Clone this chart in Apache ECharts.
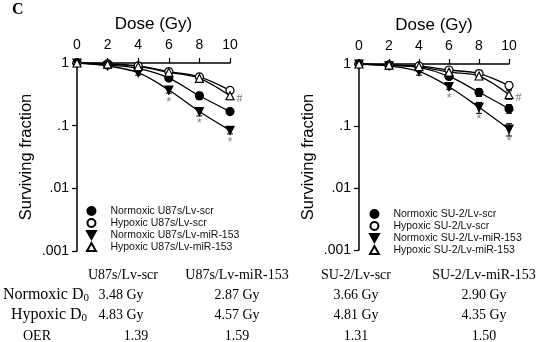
<!DOCTYPE html>
<html>
<head>
<meta charset="utf-8">
<script src="https://cdn.jsdelivr.net/npm/echarts@6/dist/echarts.min.js"></script>
<style>
html, body { margin: 0; padding: 0; background: #fff; }
#chart { width: 550px; height: 342px; }
</style>
</head>
<body>
<div id="chart"></div>
<script>
// doses (Gy)
const doses = [0, 2, 4, 6, 8, 10];

// U87s surviving fractions
const u87Names = ['Normoxic U87s/Lv-scr', 'Hypoxic U87s/Lv-scr', 'Normoxic U87s/Lv-miR-153', 'Hypoxic U87s/Lv-miR-153'];
const u87NormScr = [1, 0.93, 0.82, 0.575, 0.30, 0.168];
const u87HypScr  = [1, 0.97, 0.90, 0.73, 0.60, 0.365];
const u87NormMiR = [1, 0.90, 0.70, 0.37, 0.168, 0.084];
const u87HypMiR  = [1, 0.96, 0.88, 0.71, 0.57, 0.30];
const u87NormScrErr = [0, 0.07, 0.05, 0.05, 0.04, 0.015];
const u87HypScrErr  = [0, 0.06, 0.05, 0.05, 0.05, 0.04];
const u87NormMiRErr = [0, 0.08, 0.06, 0.04, 0.025, 0.01];
const u87HypMiRErr  = [0, 0.06, 0.05, 0.06, 0.06, 0.04];

// SU-2 surviving fractions
const su2Names = ['Normoxic SU-2/Lv-scr', 'Hypoxic SU-2/Lv-scr', 'Normoxic SU-2/Lv-miR-153', 'Hypoxic SU-2/Lv-miR-153'];
const su2NormScr = [1, 0.95, 0.88, 0.63, 0.35, 0.19];
const su2HypScr  = [1, 0.97, 0.93, 0.80, 0.70, 0.45];
const su2NormMiR = [1, 0.93, 0.76, 0.43, 0.20, 0.089];
const su2HypMiR  = [1, 0.96, 0.91, 0.74, 0.64, 0.32];
const su2NormScrErr = [0, 0.07, 0.05, 0.06, 0.05, 0.03];
const su2HypScrErr  = [0, 0.06, 0.05, 0.05, 0.05, 0.06];
const su2NormMiRErr = [0, 0.09, 0.10, 0.04, 0.04, 0.02];
const su2HypMiRErr  = [0, 0.06, 0.05, 0.06, 0.06, 0.05];

// significance marks
const starDoses = [6, 8, 10];
const hashDoses = [10];

// table below the plots
const tableHeaders = ['U87s/Lv-scr', 'U87s/Lv-miR-153', 'SU-2/Lv-scr', 'SU-2/Lv-miR-153'];
const normoxicD0 = ['3.48 Gy', '2.87 Gy', '3.66 Gy', '2.90 Gy'];
const hypoxicD0  = ['4.83 Gy', '4.57 Gy', '4.81 Gy', '4.35 Gy'];
const oerValues  = ['1.39', '1.59', '1.31', '1.50'];

const chart = echarts.init(document.getElementById('chart'));
const SANS = '"Liberation Sans", Arial, sans-serif';
const SERIF = '"Liberation Serif", "Times New Roman", serif';

const triDown = 'path://M0,0L10,0L5,9Z';
const triUp = 'path://M5,0L10,9L0,9Z';
const styles = [
    { symbol: 'circle', fill: '#000' },
    { symbol: 'circle', fill: '#fff' },
    { symbol: triDown, fill: '#000' },
    { symbol: triUp, fill: '#fff' }
];

function pairs(vals) {
    return doses.map((d, i) => [d, vals[i]]);
}

function errPairs(vals, errs) {
    return doses.map((d, i) => [d, Math.max(vals[i] - errs[i], 0.002), vals[i] + errs[i]]);
}

function logLabel(v) {
    const n = Math.round(-Math.log10(v));
    return n === 0 ? '1' : '.' + '0'.repeat(n - 1) + '1';
}

function renderErr(params, api) {
    const x = api.value(0);
    const top = api.coord([x, api.value(2)]);
    const bot = api.coord([x, api.value(1)]);
    const st = { stroke: '#000', lineWidth: 1 };
    return {
        type: 'group',
        children: [
            { type: 'line', shape: { x1: top[0], y1: top[1], x2: bot[0], y2: bot[1] }, style: st },
            { type: 'line', shape: { x1: top[0] - 3, y1: top[1], x2: top[0] + 3, y2: top[1] }, style: st },
            { type: 'line', shape: { x1: bot[0] - 3, y1: bot[1], x2: bot[0] + 3, y2: bot[1] }, style: st }
        ]
    };
}

function buildSeries(names, sets, errs, idx) {
    const out = [];
    sets.forEach((vals, k) => {
        out.push({
            type: 'custom',
            xAxisIndex: idx, yAxisIndex: idx,
            renderItem: renderErr,
            data: errPairs(vals, errs[k]),
            z: 1,
            silent: true
        });
        out.push({
            name: names[k],
            type: 'line',
            xAxisIndex: idx, yAxisIndex: idx,
            data: pairs(vals),
            smooth: 0.35,
            symbol: styles[k].symbol,
            symbolSize: 8,
            showAllSymbol: true,
            lineStyle: { color: '#000', width: 1.3 },
            itemStyle: { color: styles[k].fill, borderColor: '#000', borderWidth: 1.2 },
            z: 3
        });
    });
    // * under normoxic miR-153, # beside hypoxic miR-153
    out.push({
        type: 'scatter',
        xAxisIndex: idx, yAxisIndex: idx,
        symbolSize: 1,
        itemStyle: { color: 'rgba(0,0,0,0)' },
        data: starDoses.map(d => [d, sets[2][doses.indexOf(d)]]),
        label: { show: true, formatter: '*', position: 'bottom', distance: 5, color: '#666', fontSize: 13, fontFamily: SANS },
        z: 4
    });
    out.push({
        type: 'scatter',
        xAxisIndex: idx, yAxisIndex: idx,
        symbolSize: 1,
        itemStyle: { color: 'rgba(0,0,0,0)' },
        data: hashDoses.map(d => [d, sets[3][doses.indexOf(d)]]),
        label: { show: true, formatter: '#', position: 'right', distance: 6, offset: [0, 3], color: '#555', fontSize: 12, fontFamily: SERIF },
        z: 4
    });
    return out;
}

function xAxis(idx) {
    return {
        gridIndex: idx,
        type: 'value',
        position: 'top',
        min: 0, max: 10, interval: 2,
        name: 'Dose (Gy)',
        nameLocation: 'middle',
        nameGap: 30,
        nameTextStyle: { fontSize: 17, color: '#000', fontFamily: SANS },
        axisLine: { show: true, onZero: false, lineStyle: { color: '#000', width: 1.5 } },
        axisTick: { show: true, length: 5, lineStyle: { color: '#000', width: 1.2 } },
        axisLabel: { fontSize: 14, color: '#000', margin: 11, fontFamily: SANS },
        splitLine: { show: false }
    };
}

function yAxis(idx) {
    return {
        gridIndex: idx,
        type: 'log',
        logBase: 10,
        min: 0.001, max: 1,
        name: 'Surviving fraction',
        nameLocation: 'middle',
        nameGap: 42,
        nameTextStyle: { fontSize: 16.5, color: '#000', fontFamily: SANS },
        axisLine: { show: true, lineStyle: { color: '#000', width: 1.5 } },
        axisTick: { show: true, length: 5, lineStyle: { color: '#000', width: 1.2 } },
        axisLabel: { fontSize: 14, color: '#000', margin: 8, fontFamily: SANS, formatter: logLabel },
        splitLine: { show: false }
    };
}

function legendFor(names, left, top) {
    return {
        orient: 'vertical',
        left: left, top: top,
        itemWidth: 28, itemHeight: 8, itemGap: 0,
        selectedMode: false,
        textStyle: { fontSize: 10.5, lineHeight: 12, color: '#111', fontFamily: SANS },
        data: names.map((n, k) => ({ name: n, icon: styles[k].symbol }))
    };
}

// table texts
const colX = [123, 237, 356, 484];
const rowY = [275, 295, 315, 336];
const graphics = [
    { type: 'text', left: 12, top: 2, style: { text: 'C', font: 'bold 16px ' + SERIF, fill: '#000' } }
];
function cell(text, x, y, rich) {
    const s = { text: text, x: x, y: y, align: 'center', verticalAlign: 'middle', font: '14px ' + SERIF, fill: '#000' };
    if (rich) {
        s.rich = {
            a: { fontSize: 16, fontFamily: SERIF, color: '#000' },
            s: { fontSize: 11, fontFamily: SERIF, color: '#000', padding: [7, 0, 0, 0] }
        };
    }
    return { type: 'text', style: s };
}
tableHeaders.forEach((t, i) => graphics.push(cell(t, colX[i], rowY[0])));
normoxicD0.forEach((t, i) => graphics.push(cell(t, colX[i] - (i === 0 ? 2 : 0), rowY[1])));
hypoxicD0.forEach((t, i) => graphics.push(cell(t, colX[i] - (i === 0 ? 2 : 0), rowY[2])));
oerValues.forEach((t, i) => graphics.push(cell(t, colX[i] + (i === 0 ? 13 : 0), rowY[3])));
graphics.push(cell('{a|Normoxic D}{s|0}', 46, rowY[1], true));
graphics.push(cell('{a|Hypoxic D}{s|0}', 49, rowY[2], true));
graphics.push(cell('OER', 37, rowY[3]));

const option = {
    animation: false,
    backgroundColor: '#fff',
    grid: [
        { left: 77, top: 63, width: 153, height: 188 },
        { left: 359, top: 64, width: 150, height: 186 }
    ],
    xAxis: [xAxis(0), xAxis(1)],
    yAxis: [yAxis(0), yAxis(1)],
    legend: [legendFor(u87Names, 81, 200), legendFor(su2Names, 364, 203)],
    series: [].concat(
        buildSeries(u87Names, [u87NormScr, u87HypScr, u87NormMiR, u87HypMiR],
            [u87NormScrErr, u87HypScrErr, u87NormMiRErr, u87HypMiRErr], 0),
        buildSeries(su2Names, [su2NormScr, su2HypScr, su2NormMiR, su2HypMiR],
            [su2NormScrErr, su2HypScrErr, su2NormMiRErr, su2HypMiRErr], 1)
    ),
    graphic: graphics
};

chart.setOption(option);
</script>
</body>
</html>
